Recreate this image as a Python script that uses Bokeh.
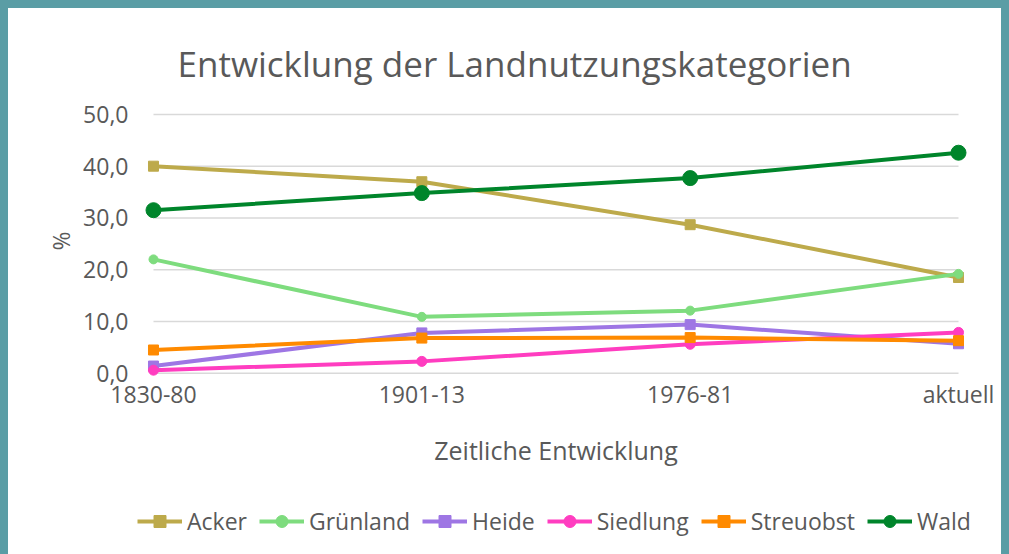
from bokeh.plotting import figure
from bokeh.layouts import column
from bokeh.models import Range1d, FixedTicker, Legend, LegendItem, Title, GlobalInlineStyleSheet
from bokeh.embed import file_html
from bokeh.resources import INLINE

# ---- data ----
categories = ["1830-80", "1901-13", "1976-81", "aktuell"]
acker = [40.0, 37.0, 28.7, 18.5]
gruenland = [22.0, 10.9, 12.1, 19.2]
heide = [1.4, 7.8, 9.4, 5.7]
siedlung = [0.6, 2.3, 5.6, 7.9]
streuobst = [4.5, 6.8, 6.9, 6.3]
wald = [31.5, 34.8, 37.7, 42.6]
y_ticks = [0, 10, 20, 30, 40, 50]
y_tick_labels = ["0,0", "10,0", "20,0", "30,0", "40,0", "50,0"]

series = [
    ("Acker", acker, "#BDAA4B", "square", 10),
    ("Grünland", gruenland, "#7EDC7E", "circle", 9),
    ("Heide", heide, "#9E76E4", "square", 10),
    ("Siedlung", siedlung, "#FF3DC0", "circle", 10),
    ("Streuobst", streuobst, "#FF8A00", "square", 10),
    ("Wald", wald, "#00852B", "circle", 15),
]

FONT = "Open Sans"
TXT = "#595959"
xs = list(range(len(categories)))

W = 993
H_MAIN = 480
H_LEG = 66

p = figure(width=W, height=H_MAIN, output_backend="svg", toolbar_location=None,
           x_range=Range1d(-0.0745, 3.0745), y_range=Range1d(-1.2, 52.3),
           min_border_left=125, min_border_right=23, min_border_top=94, min_border_bottom=109)
p.outline_line_color = None
p.background_fill_color = "white"
p.border_fill_color = "white"
p.styles = {"background-color": "white"}
p.stylesheets = [GlobalInlineStyleSheet(css="html, body { background-color: #5A9DA5; } body { margin: 8px 8px 0 8px; overflow: hidden; }")]
p.title.standoff = 0
p.title.text_font_size = "1px"

# title
t = Title(text="Entwicklung der Landnutzungskategorien", align="left", offset=44,
          text_font=FONT, text_font_size="35px", text_font_style="normal",
          text_color=TXT, standoff=32)
p.add_layout(t, "above")

# gridlines
p.xgrid.visible = False
p.ygrid.visible = False
p.segment(x0=[xs[0]] * len(y_ticks), x1=[xs[-1]] * len(y_ticks), y0=y_ticks, y1=y_ticks,
          line_color="#D9D9D9", line_width=1.5)

# axes
p.xaxis.ticker = FixedTicker(ticks=xs)
p.xaxis.major_label_overrides = {i: c for i, c in enumerate(categories)}
p.yaxis.ticker = FixedTicker(ticks=y_ticks)
p.yaxis.major_label_overrides = {v: l for v, l in zip(y_ticks, y_tick_labels)}
for ax in (p.xaxis, p.yaxis):
    ax.axis_line_color = None
    ax.major_tick_line_color = None
    ax.minor_tick_line_color = None
    ax.major_tick_out = 0
    ax.major_label_text_font = FONT
    ax.major_label_text_font_size = "23px"
    ax.major_label_text_color = TXT
    ax.axis_label_text_font = FONT
    ax.axis_label_text_font_size = "25px"
    ax.axis_label_text_font_style = "normal"
    ax.axis_label_text_color = TXT
p.xaxis.axis_label = "Zeitliche Entwicklung"
p.yaxis.axis_label = "%"
p.yaxis.axis_label_text_font_size = "23px"
p.xaxis.major_label_standoff = -2
p.xaxis.axis_label_standoff = 20
p.yaxis.major_label_standoff = 5
p.yaxis.axis_label_standoff = 3

for name, vals, color, marker, size in series:
    p.line(xs, vals, line_color=color, line_width=4)
    p.scatter(xs, vals, marker=marker, size=size, fill_color=color, line_color=color)

# legend figure (its series lie outside its visible y range; only the legend shows)
q = figure(width=W, height=H_LEG, output_backend="svg", toolbar_location=None,
           x_range=Range1d(0, 1), y_range=Range1d(1000, 1001),
           x_axis_location=None, y_axis_location=None,
           min_border_left=0, min_border_right=0, min_border_top=0, min_border_bottom=0)
q.outline_line_color = None
q.grid.visible = False
q.background_fill_color = "white"
q.border_fill_color = "white"
q.styles = {"background-color": "white"}

items = []
for name, vals, color, marker, size in series:
    l = q.line(xs, vals, line_color=color, line_width=4)
    s = q.scatter(xs, vals, marker=marker, size=size, fill_color=color, line_color=color)
    items.append(LegendItem(label=name, renderers=[l, s]))

legend = Legend(items=items, orientation="horizontal", location=(4, 17),
                glyph_width=45, glyph_height=30, label_height=30, label_standoff=5, spacing=12,
                padding=0, margin=0, border_line_color=None, background_fill_alpha=0,
                label_text_font=FONT, label_text_font_size="23px", label_text_color=TXT)
q.add_layout(legend, "center")

layout = column(p, q, spacing=0)
open("out.html", "w").write(file_html(layout, INLINE))
